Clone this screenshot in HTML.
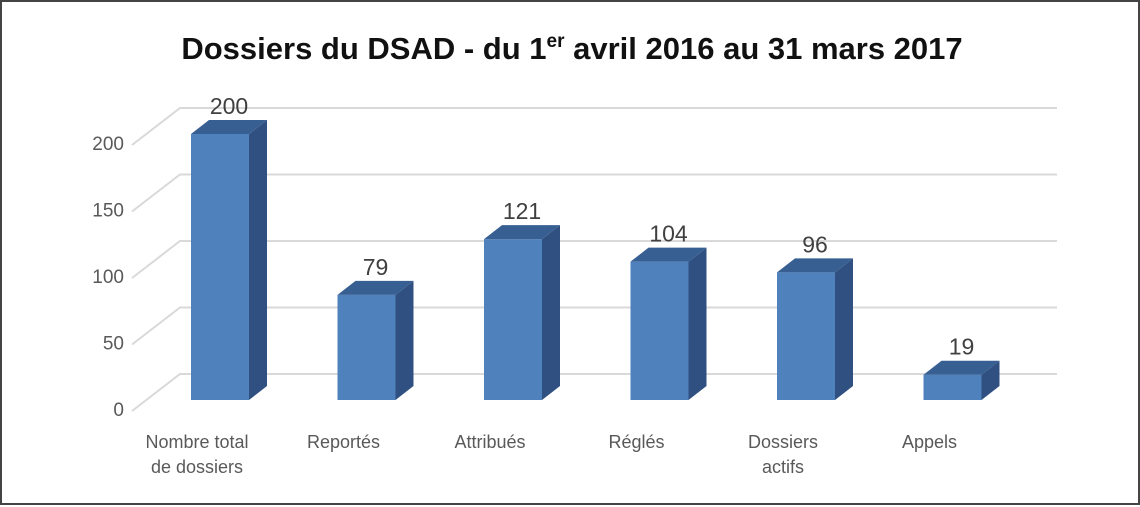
<!DOCTYPE html>
<html><head><meta charset="utf-8"><style>
html,body{margin:0;padding:0;background:#fff}
#wrap{position:relative;width:1140px;height:505px;box-sizing:border-box;border:2px solid #444;font-family:"Liberation Sans",sans-serif}
svg{position:absolute;left:0;top:0}
</style></head><body>
<div id="wrap">
<svg id="c" width="1140" height="505">
<text x="570" y="57" text-anchor="middle" font-size="31" font-weight="bold" fill="#111">Dossiers du DSAD - du 1<tspan font-size="19" dy="-12">er</tspan><tspan dy="12"> avril 2016 au 31 mars 2017</tspan></text>
</svg>
</div>
<script>
const categories=[["Nombre total","de dossiers"],["Reportés"],["Attribués"],["Réglés"],["Dossiers","actifs"],["Appels"]];
const values=[200,79,121,104,96,19];
const ticks=[0,50,100,150,200];
const svg=document.getElementById('c');
const NS='http://www.w3.org/2000/svg';
const scale=266/200, base=398, dx=18, dy=-14, backBase=372, bw=58, x0=189, step=146.5;
function y(v){return base-v*scale;}
function by(v){return backBase-v*scale;}
function el(t,a){const e=document.createElementNS(NS,t);for(const k in a)e.setAttribute(k,a[k]);svg.appendChild(e);return e;}
ticks.forEach(t=>{
  const g=el('polyline',{points:`130,${by(t)+37} 178,${by(t)} 1055,${by(t)}`,fill:'none',stroke:'#d9d9d9','stroke-width':2});
  
  
  const l=el('text',{x:122,y:by(t)+42,'text-anchor':'end','font-size':19,fill:'#595959'});
  l.textContent=t;
  
  
});
values.forEach((v,i)=>{
  const x=x0+i*step, top=y(v);
  const g=document.createElementNS(NS,'g');svg.appendChild(g);
  
  
  const f=document.createElementNS(NS,'polygon');
  f.setAttribute('points',`${x},${base} ${x+bw},${base} ${x+bw},${top} ${x},${top}`);f.setAttribute('fill','#4f81bd');g.appendChild(f);
  const s=document.createElementNS(NS,'polygon');
  s.setAttribute('points',`${x+bw},${base} ${x+bw+dx},${base+dy} ${x+bw+dx},${top+dy} ${x+bw},${top}`);s.setAttribute('fill','#2f5080');g.appendChild(s);
  const t=document.createElementNS(NS,'polygon');
  t.setAttribute('points',`${x},${top} ${x+bw},${top} ${x+bw+dx},${top+dy} ${x+dx},${top+dy}`);t.setAttribute('fill','#385f92');g.appendChild(t);
  const lab=el('text',{x:x+bw/2+dx/2,y:top+dy-6,'text-anchor':'middle','font-size':23,fill:'#404040'});
  lab.textContent=v;
  
  
  const c=el('text',{x:195+i*step,y:446,'text-anchor':'middle','font-size':18,fill:'#595959'});
  
  
  categories[i].forEach((ln,j)=>{const ts=document.createElementNS(NS,'tspan');ts.setAttribute('x',195+i*step);ts.setAttribute('dy',j?25:0);ts.textContent=ln;c.appendChild(ts);});
});
</script>
</body></html>
